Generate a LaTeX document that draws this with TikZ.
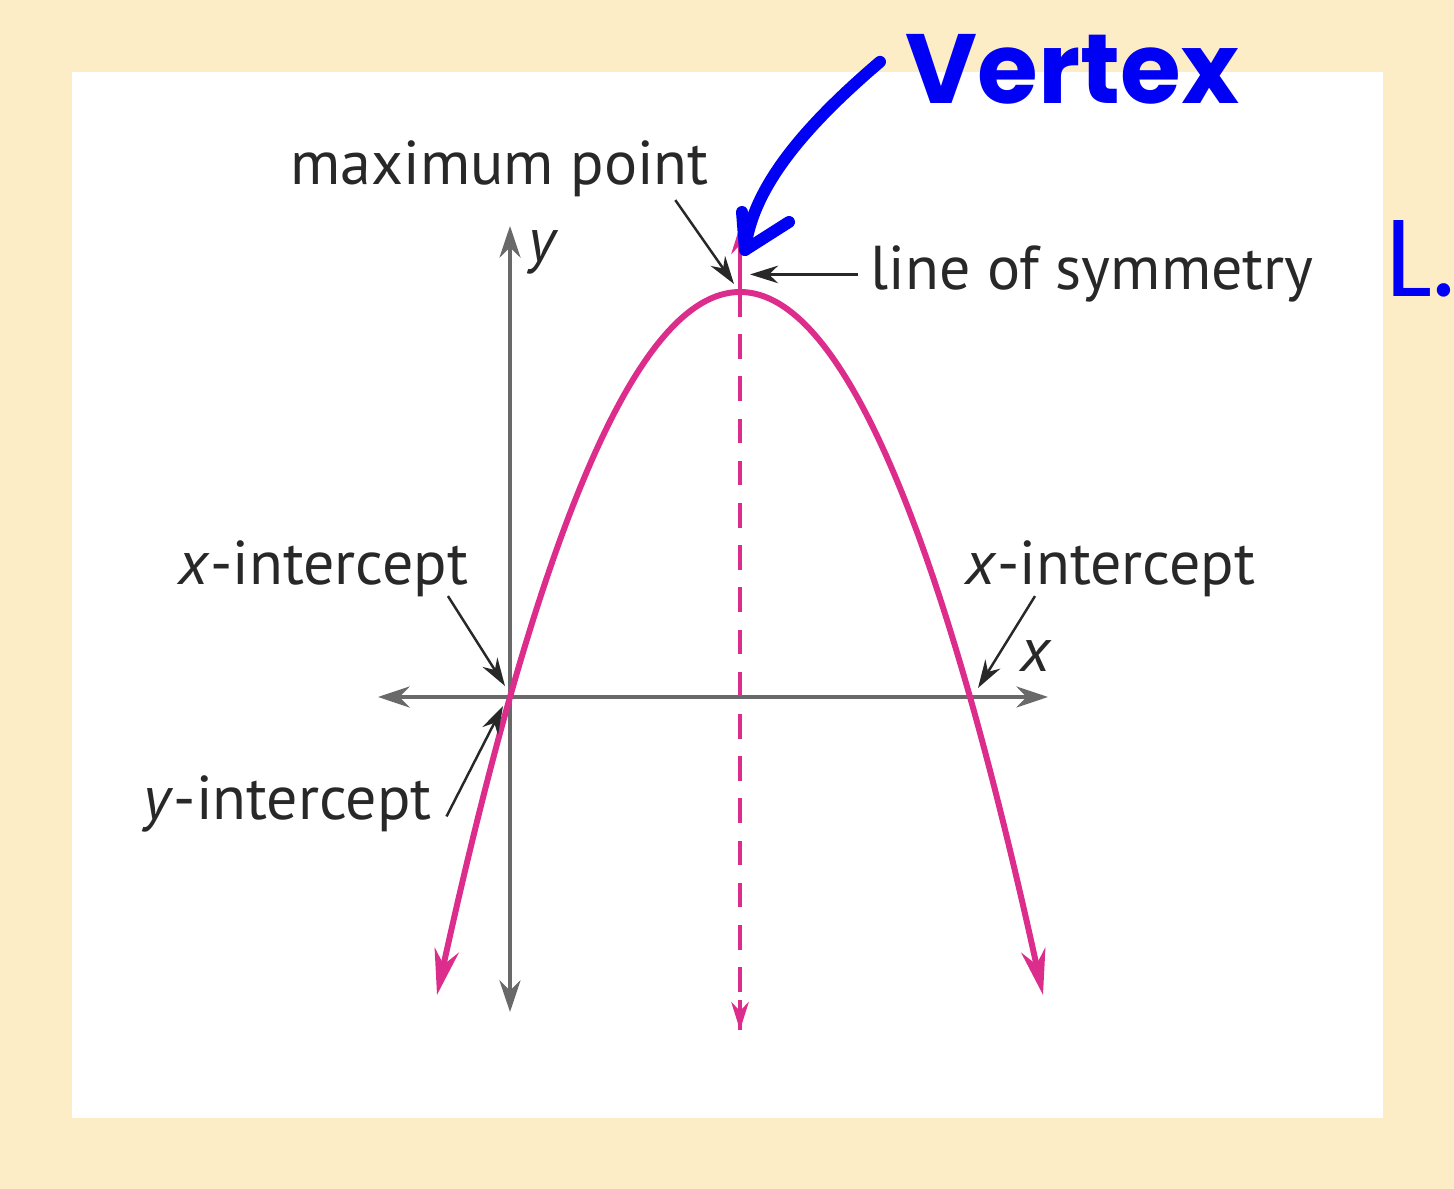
\documentclass[tikz,border=0pt]{standalone}
\usepackage{fontspec}
\setmainfont{PT Sans}
\newfontfamily\handfont{Poppins}
\usepackage{tikz}
\usetikzlibrary{arrows.meta,calc,positioning}
\usepackage{xcolor}
\definecolor{framebeige}{RGB}{253,237,198}
\definecolor{parmag}{RGB}{221,45,140}
\definecolor{axgray}{RGB}{105,105,105}
\definecolor{txtgray}{RGB}{40,40,40}
\definecolor{penblue}{RGB}{0,0,245}

\tikzset{
  lbl/.style={font=\fontsize{17.6}{19}\selectfont, text=txtgray, inner sep=0pt},
  axis/.style={axgray, line width=1.1pt, -{Stealth[length=9pt,width=6pt]}},
  leader/.style={txtgray, line width=0.7pt, -{Stealth[length=8pt,width=5pt]}},
  parcurve/.style={parmag, line width=1.7pt},
  symline/.style={parmag, line width=0.9pt, dash pattern=on 7pt off 5pt},
  pen/.style={penblue, line width=3.4pt, line cap=round, line join=round},
}

\begin{document}
\begin{tikzpicture}[x=0.01cm, y=-0.01cm]
% frame
\fill[framebeige] (0,0) rectangle (1454,1189);
\fill[white] (72,72) rectangle (1383,1118);
\useasboundingbox (0,0) rectangle (1454,1189);

% points of the graph
\coordinate (orig) at (510,697);
\coordinate (vtx) at (740,292);
\coordinate (xint) at (970,697);

% axes
\coordinate (xl) at (378,697); \coordinate (xr) at (1048,697);
\coordinate (yt) at (510,226); \coordinate (yb) at (510,1012);
\draw[axis] (orig) -- (xl);
\draw[axis] (orig) -- (xr);
\draw[axis] (orig) -- (yt);
\draw[axis] (orig) -- (yb);
\node[lbl, anchor=base west] (ylab) at (528,262) {\itshape y};
\node[lbl, anchor=base west] (xlab) at (1020,672) {\itshape x};

% line of symmetry
\coordinate (st) at (740,226); \coordinate (sb) at (740,1030);
\coordinate (sm) at (740,1000);
\draw[symline] (vtx) -- (sb);
\draw[parmag, line width=0.9pt, -{Stealth[length=8pt,width=5pt]}] (vtx) -- (st);
\draw[parmag, line width=0.9pt, -{Stealth[length=8pt,width=5pt]}] (sm) -- (sb);

% parabola
\draw[parcurve, {Stealth[length=13pt,width=7pt]}-{Stealth[length=13pt,width=7pt]}]
  plot[domain=437:1043, samples=90, smooth] (\x, {292+76.56*((\x-740)/100)^2});

% labels
\node[lbl, anchor=base west] (maxpt) at (290,185) {maximum point};
\node[lbl, anchor=base west] (symlbl) at (870,290) {line of symmetry};
\node[lbl, anchor=base west] (xintl) at (178,585) {\textit{x}-intercept};
\node[lbl, anchor=base west] (xintr) at (965,585) {\textit{x}-intercept};
\node[lbl, anchor=base west] (yint) at (143,820) {\textit{y}-intercept};

\draw[leader] ($(maxpt.south east)+(-34,2)$) -- ($(vtx)+(-6,-8)$);
\draw[leader] ($(symlbl.west)+(-12,0)$) -- ($(symlbl.west)+(-120,0)$);
\draw[leader] ($(xintl.south east)+(-21,-2)$) -- ($(orig)+(-5,-11)$);
\draw[leader] ($(yint.east)+(14,12)$) -- ($(orig)+(-7,9)$);
\draw[leader] ($(xintr.south west)+(70,-2)$) -- ($(xint)+(8,-9)$);

% handwritten note
\node[font=\handfont\fontsize{28}{31}\selectfont\bfseries, text=penblue, inner sep=0pt, anchor=base west] (vword) at (905,104) {Vertex};
\node[font=\handfont\fontsize{31}{34}\selectfont, text=penblue, inner sep=0pt, anchor=base west] (lnote) at (1385,297) {L.};
\coordinate (vtip) at (745,250);
\draw[pen] ($(vword.west)+(-25,-8)$) .. controls (800,130) and (752,190) .. (vtip);
\draw[pen] (742,212) -- (vtip) -- (789,222);
\end{tikzpicture}
\end{document}
